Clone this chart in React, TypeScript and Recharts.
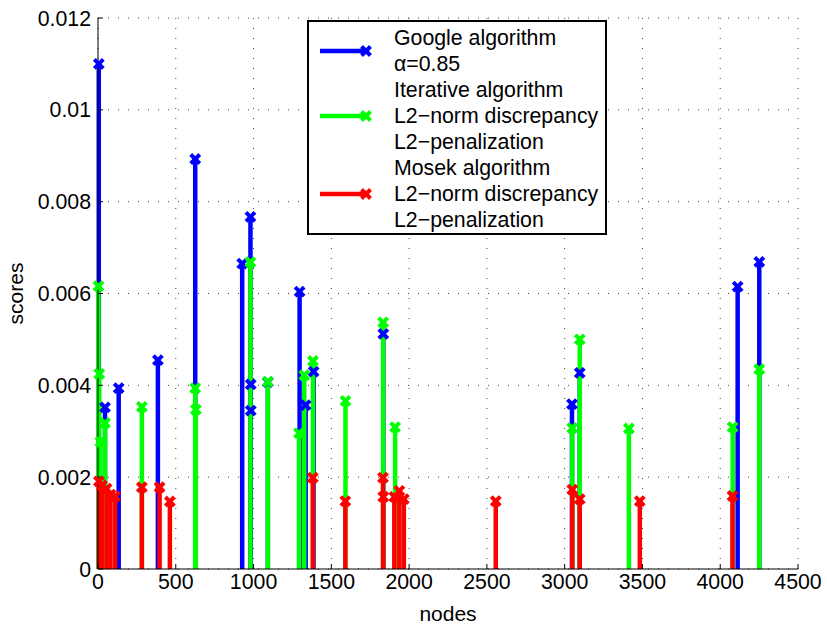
import React from "react";
import {
  ScatterChart,
  Scatter,
  XAxis,
  YAxis,
  CartesianGrid,
  ErrorBar,
  Legend,
  Label,
} from "recharts";

// node index -> score, one pair of arrays per algorithm
const googleNodes = [5, 45, 133, 385, 625, 927, 980, 982, 982, 1092, 1296, 1335, 1386, 1834, 3047, 3097, 4112, 4251];
const googleScores = [0.011, 0.00352, 0.00394, 0.00455, 0.00893, 0.00665, 0.00767, 0.00402, 0.00345, 0.00407, 0.00604, 0.00357, 0.0043, 0.00512, 0.00359, 0.00427, 0.00615, 0.00669];

const iterNodes = [3, 8, 15, 45, 282, 625, 629, 980, 1092, 1292, 1326, 1382, 1591, 1833, 1910, 3049, 3097, 3413, 4080, 4251];
const iterScores = [0.00616, 0.00425, 0.00277, 0.00318, 0.00353, 0.00394, 0.00347, 0.00668, 0.00408, 0.00296, 0.00422, 0.00453, 0.00366, 0.00537, 0.00309, 0.00307, 0.005, 0.00306, 0.00309, 0.00435];

const mosekNodes = [6, 25, 55, 80, 110, 282, 396, 462, 1381, 1590, 1832, 1834, 1905, 1937, 1966, 2557, 3049, 3097, 3483, 4079];
const mosekScores = [0.00191, 0.00182, 0.00175, 0.00162, 0.00158, 0.00178, 0.00178, 0.00147, 0.00199, 0.00148, 0.00199, 0.00157, 0.00157, 0.0017, 0.00152, 0.00148, 0.00173, 0.00152, 0.00148, 0.00159];

const xTicks = [0, 500, 1000, 1500, 2000, 2500, 3000, 3500, 4000, 4500];
const yTicks = [0, 0.002, 0.004, 0.006, 0.008, 0.01, 0.012];

const seriesColors = ["#0000ff", "#00ff00", "#ff0000"];
const legendText = [
  ["Google algorithm", "\u03b1=0.85"],
  ["Iterative algorithm", "L2\u2212norm discrepancy", "L2\u2212penalization"],
  ["Mosek algorithm", "L2\u2212norm discrepancy", "L2\u2212penalization"],
];

// stem goes from 0 up to the score
const toRows = (nodes: number[], scores: number[]) =>
  nodes.map((x, i) => ({ x, y: scores[i], stem: [scores[i], 0] }));

const googleRows = toRows(googleNodes, googleScores);
const iterRows = toRows(iterNodes, iterScores);
const mosekRows = toRows(mosekNodes, mosekScores);

function Cross({ cx, cy, color }: { cx: number; cy: number; color: string }) {
  const r = 4.5;
  return (
    <g stroke={color} strokeWidth={4}>
      <line x1={cx - r} y1={cy - r} x2={cx + r} y2={cy + r} />
      <line x1={cx - r} y1={cy + r} x2={cx + r} y2={cy - r} />
    </g>
  );
}

const crossShape = (color: string) => (props: any) =>
  <Cross cx={props.cx} cy={props.cy} color={color} />;

function LegendBox({ payload }: any) {
  const items = payload ?? [];
  return (
    <div
      style={{
        border: "2px solid #000",
        background: "#fff",
        width: 296,
        paddingTop: 3,
        fontSize: 21.3,
        lineHeight: "26px",
        color: "#000",
      }}
    >
      {items.map((entry: any, i: number) => {
        const color = seriesColors[i] ?? entry.color;
        return (
          <div key={i} style={{ display: "flex", alignItems: "center" }}>
            <svg width={85} height={16} style={{ flex: "none" }}>
              <line x1={11} y1={8} x2={57} y2={8} stroke={color} strokeWidth={4.5} />
              <Cross cx={57} cy={8} color={color} />
            </svg>
            <div>
              {(legendText[i] ?? []).map((t) => (
                <div key={t} style={{ whiteSpace: "nowrap" }}>{t}</div>
              ))}
            </div>
          </div>
        );
      })}
    </div>
  );
}

function YTitle({ viewBox }: any) {
  const x = viewBox.x + 23;
  const y = viewBox.y + viewBox.height / 2;
  return (
    <text x={x} y={y} transform={`rotate(-90, ${x}, ${y})`} textAnchor="middle" fontSize={21} fill="#000">
      scores
    </text>
  );
}

export default function App() {
  const tick = { fill: "#000", fontSize: 21.3 };
  return (
    <div
      style={{
        position: "absolute",
        left: 0,
        top: 0,
        width: 827,
        height: 629,
        background: "#fff",
        fontFamily: "'Liberation Sans', Arial, sans-serif",
      }}
    >
      <ScatterChart width={827} height={629} margin={{ top: 18, right: 29, left: 0, bottom: 0 }}>
        <CartesianGrid stroke="#444" strokeDasharray="1 9" />
        <XAxis
          dataKey="x"
          type="number"
          domain={[0, 4500]}
          ticks={xTicks}
          interval={0}
          height={60}
          tick={tick}
          tickSize={-5}
          tickMargin={10}
          stroke="#000"
          axisLine={{ stroke: "#000" }}
          tickLine={{ stroke: "#000" }}
        >
          <Label value="nodes" position="insideBottom" offset={8} fill="#000" fontSize={21} />
        </XAxis>
        <YAxis
          dataKey="y"
          type="number"
          domain={[0, 0.012]}
          ticks={yTicks}
          interval={0}
          width={98}
          tick={tick}
          tickSize={-5}
          tickMargin={12}
          stroke="#000"
          axisLine={{ stroke: "#000" }}
          tickLine={{ stroke: "#000" }}
        >
          <Label content={<YTitle />} />
        </YAxis>
        <Legend
          layout="vertical"
          align="center"
          verticalAlign="middle"
          content={<LegendBox />}
          wrapperStyle={{ left: 307, top: 20, width: 300 }}
        />
        <Scatter name="Google" data={googleRows} fill={seriesColors[0]} shape={crossShape(seriesColors[0])} isAnimationActive={false}>
          <ErrorBar dataKey="stem" direction="y" width={0} stroke={seriesColors[0]} strokeWidth={4.5} isAnimationActive={false} />
        </Scatter>
        <Scatter name="Iterative" data={iterRows} fill={seriesColors[1]} shape={crossShape(seriesColors[1])} isAnimationActive={false}>
          <ErrorBar dataKey="stem" direction="y" width={0} stroke={seriesColors[1]} strokeWidth={4.5} isAnimationActive={false} />
        </Scatter>
        <Scatter name="Mosek" data={mosekRows} fill={seriesColors[2]} shape={crossShape(seriesColors[2])} isAnimationActive={false}>
          <ErrorBar dataKey="stem" direction="y" width={0} stroke={seriesColors[2]} strokeWidth={4.5} isAnimationActive={false} />
        </Scatter>
      </ScatterChart>
    </div>
  );
}
